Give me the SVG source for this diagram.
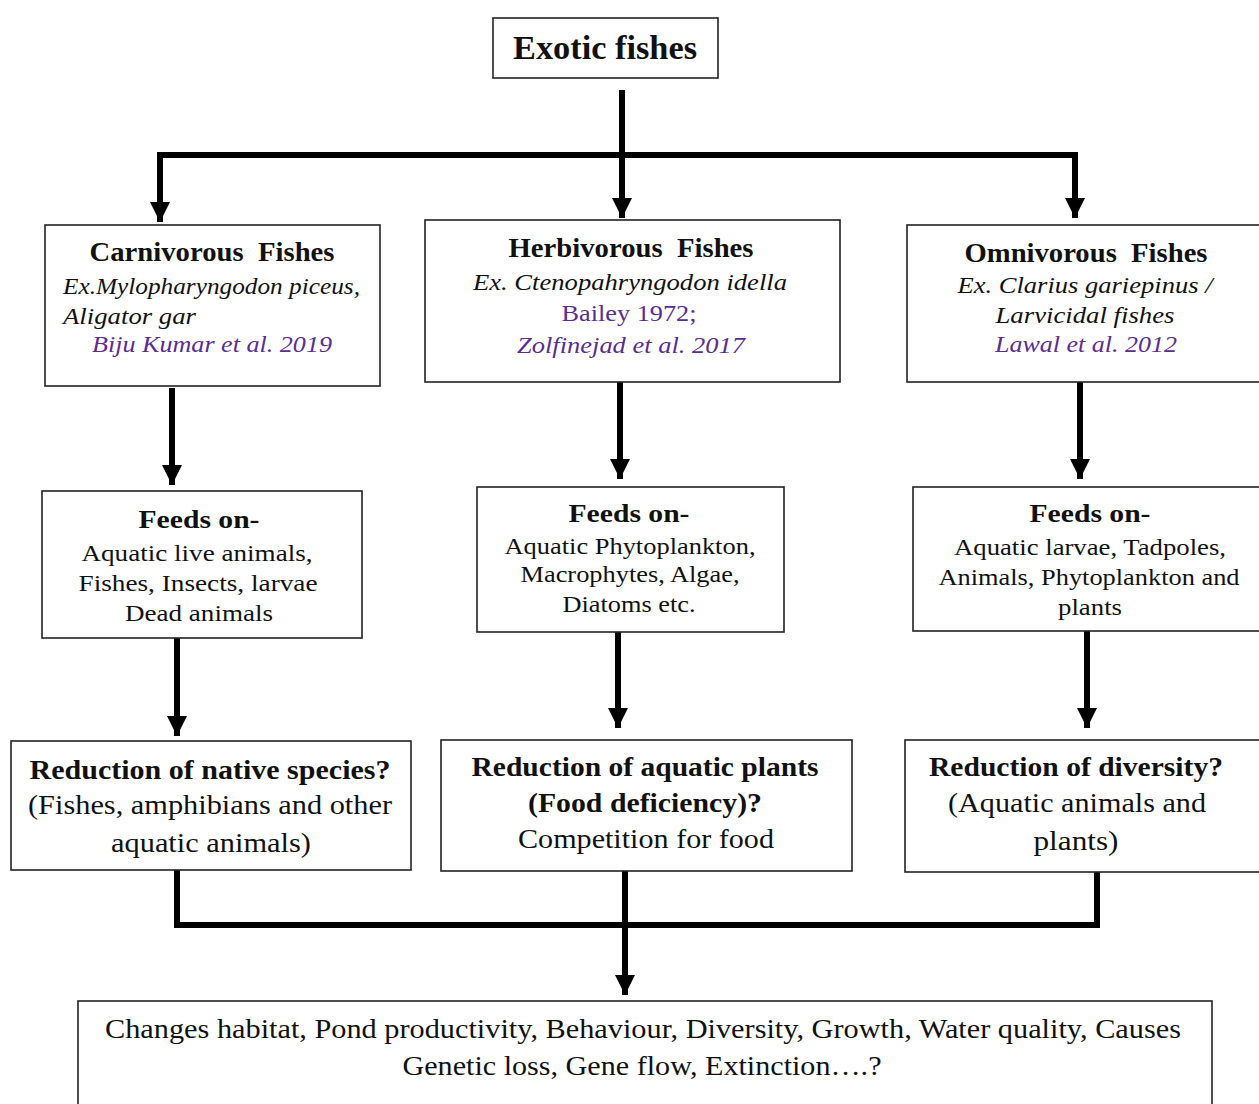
<svg xmlns="http://www.w3.org/2000/svg" width="1259" height="1104" viewBox="0 0 1259 1104">
<defs>
<marker id="ah" viewBox="0 0 10 10" refX="10" refY="5" markerWidth="3.4" markerHeight="3.8" markerUnits="strokeWidth" orient="auto">
<path d="M0,0 L10,5 L0,10 z" fill="#000"/>
</marker>
<style>
.box{fill:#fff;stroke:#222;stroke-width:1.6}
.t{font-family:"Liberation Serif","Times New Roman",serif;fill:#111;text-anchor:middle}
.h{font-weight:bold;font-size:27px}
.b{font-weight:bold;font-size:26px}
.r{font-size:24px}
.i{font-style:italic;font-size:24px}
.p{fill:#5a2d91}
.big{font-size:27px}
.ln{fill:none;stroke:#000;stroke-width:6}
.arr{fill:none;stroke:#000;stroke-width:6;marker-end:url(#ah)}
</style>
</defs>
<rect width="1259" height="1104" fill="#fff"/>
<g id="connectors">
<line class="arr" x1="622" y1="90" x2="622" y2="218"/>
<polyline class="ln" points="160,200 160,155 1075,155 1075,200"/>
<line class="arr" x1="160" y1="155" x2="160" y2="222"/>
<line class="arr" x1="1075" y1="155" x2="1075" y2="218"/>
<line class="arr" x1="172" y1="388" x2="172" y2="485"/>
<line class="arr" x1="620" y1="382" x2="620" y2="479"/>
<line class="arr" x1="1080" y1="382" x2="1080" y2="479"/>
<line class="arr" x1="177" y1="638" x2="177" y2="736"/>
<line class="arr" x1="618" y1="632" x2="618" y2="728"/>
<line class="arr" x1="1087" y1="631" x2="1087" y2="728"/>
<polyline class="ln" points="177,870 177,925 1097,925 1097,872"/>
<line class="arr" x1="625" y1="871" x2="625" y2="995"/>
</g>
<g id="exotic">
<rect class="box" x="493" y="18" width="225" height="60"/>
<text class="t" x="605" y="59" style="font-size:33px;font-weight:bold" textLength="184" lengthAdjust="spacingAndGlyphs">Exotic fishes</text>
</g>
<g id="carnivorous">
<rect class="box" x="45" y="225" width="335" height="161"/>
<text class="t h" x="212" y="261" xml:space="preserve" textLength="245" lengthAdjust="spacingAndGlyphs">Carnivorous  Fishes</text>
<text class="t i" x="63" y="294" style="text-anchor:start" textLength="297" lengthAdjust="spacingAndGlyphs">Ex.Mylopharyngodon piceus,</text>
<text class="t i" x="63" y="324" style="text-anchor:start" textLength="133" lengthAdjust="spacingAndGlyphs">Aligator gar</text>
<text class="t i p" x="92" y="352" style="text-anchor:start" textLength="240" lengthAdjust="spacingAndGlyphs">Biju Kumar et al. 2019</text>
</g>
<g id="herbivorous">
<rect class="box" x="425" y="220" width="415" height="162"/>
<text class="t h" x="631" y="257" xml:space="preserve" textLength="245" lengthAdjust="spacingAndGlyphs">Herbivorous  Fishes</text>
<text class="t i" x="630" y="290" textLength="314" lengthAdjust="spacingAndGlyphs">Ex. Ctenopahryngodon idella</text>
<text class="t r p" x="629" y="321" textLength="135" lengthAdjust="spacingAndGlyphs">Bailey 1972;</text>
<text class="t i p" x="631" y="353" textLength="228" lengthAdjust="spacingAndGlyphs">Zolfinejad et al. 2017</text>
</g>
<g id="omnivorous">
<rect class="box" x="907" y="225" width="360" height="157"/>
<text class="t h" x="1086" y="262" xml:space="preserve" textLength="243" lengthAdjust="spacingAndGlyphs">Omnivorous  Fishes</text>
<text class="t i" x="1085" y="293" textLength="255" lengthAdjust="spacingAndGlyphs">Ex. Clarius gariepinus /</text>
<text class="t i" x="1085" y="323" textLength="179" lengthAdjust="spacingAndGlyphs">Larvicidal fishes</text>
<text class="t i p" x="1086" y="352" textLength="182" lengthAdjust="spacingAndGlyphs">Lawal et al. 2012</text>
</g>
<g id="feeds-carn">
<rect class="box" x="42" y="491" width="320" height="147"/>
<text class="t b" x="199" y="528" textLength="121" lengthAdjust="spacingAndGlyphs">Feeds on-</text>
<text class="t r" x="197" y="561" textLength="231" lengthAdjust="spacingAndGlyphs">Aquatic live animals,</text>
<text class="t r" x="198" y="591" textLength="239" lengthAdjust="spacingAndGlyphs">Fishes, Insects, larvae</text>
<text class="t r" x="199" y="621" textLength="148" lengthAdjust="spacingAndGlyphs">Dead animals</text>
</g>
<g id="feeds-herb">
<rect class="box" x="477" y="487" width="307" height="145"/>
<text class="t b" x="629" y="522" textLength="121" lengthAdjust="spacingAndGlyphs">Feeds on-</text>
<text class="t r" x="630" y="554" textLength="251" lengthAdjust="spacingAndGlyphs">Aquatic Phytoplankton,</text>
<text class="t r" x="630" y="582" textLength="219" lengthAdjust="spacingAndGlyphs">Macrophytes, Algae,</text>
<text class="t r" x="629" y="612" textLength="133" lengthAdjust="spacingAndGlyphs">Diatoms etc.</text>
</g>
<g id="feeds-omni">
<rect class="box" x="913" y="487" width="354" height="144"/>
<text class="t b" x="1090" y="522" textLength="121" lengthAdjust="spacingAndGlyphs">Feeds on-</text>
<text class="t r" x="1090" y="555" textLength="272" lengthAdjust="spacingAndGlyphs">Aquatic larvae, Tadpoles,</text>
<text class="t r" x="1089" y="585" textLength="301" lengthAdjust="spacingAndGlyphs">Animals, Phytoplankton and</text>
<text class="t r" x="1090" y="615" textLength="64" lengthAdjust="spacingAndGlyphs">plants</text>
</g>
<g id="reduction-native">
<rect class="box" x="11" y="741" width="400" height="129"/>
<text class="t h" x="210" y="779" textLength="361" lengthAdjust="spacingAndGlyphs">Reduction of native species?</text>
<text class="t big" x="210" y="814" textLength="364" lengthAdjust="spacingAndGlyphs">(Fishes, amphibians and other</text>
<text class="t big" x="211" y="852" textLength="200" lengthAdjust="spacingAndGlyphs">aquatic animals)</text>
</g>
<g id="reduction-plants">
<rect class="box" x="441" y="740" width="411" height="131"/>
<text class="t h" x="645" y="776" textLength="347" lengthAdjust="spacingAndGlyphs">Reduction of aquatic plants</text>
<text class="t h" x="645" y="812" textLength="234" lengthAdjust="spacingAndGlyphs">(Food deficiency)?</text>
<text class="t big" x="646" y="848" textLength="256" lengthAdjust="spacingAndGlyphs">Competition for food</text>
</g>
<g id="reduction-diversity">
<rect class="box" x="905" y="740" width="362" height="132"/>
<text class="t h" x="1076" y="776" textLength="294" lengthAdjust="spacingAndGlyphs">Reduction of diversity?</text>
<text class="t big" x="1077" y="812" textLength="258" lengthAdjust="spacingAndGlyphs">(Aquatic animals and</text>
<text class="t big" x="1076" y="850" textLength="85" lengthAdjust="spacingAndGlyphs">plants)</text>
</g>
<g id="consequences">
<rect class="box" x="78" y="1001" width="1134" height="120"/>
<text class="t big" x="643" y="1038" textLength="1076" lengthAdjust="spacingAndGlyphs">Changes habitat, Pond productivity, Behaviour, Diversity, Growth, Water quality, Causes</text>
<text class="t big" x="642" y="1075" textLength="479" lengthAdjust="spacingAndGlyphs">Genetic loss, Gene flow, Extinction….?</text>
</g>
</svg>
